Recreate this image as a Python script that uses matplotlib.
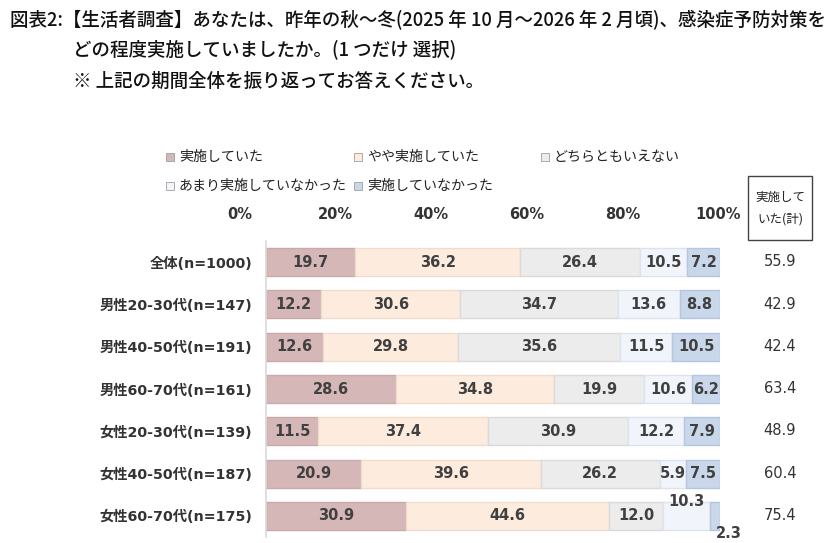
import matplotlib
matplotlib.use("Agg")
import matplotlib.pyplot as plt
from matplotlib.patches import Rectangle
import numpy as np

plt.rcParams['font.family'] = ['DejaVu Sans', 'Noto Sans CJK JP']

categories = ["全体(n=1000)", "男性20-30代(n=147)", "男性40-50代(n=191)", "男性60-70代(n=161)",
              "女性20-30代(n=139)", "女性40-50代(n=187)", "女性60-70代(n=175)"]
series_names = ["実施していた", "やや実施していた", "どちらともいえない", "あまり実施していなかった", "実施していなかった"]
v_jisshi = [19.7, 12.2, 12.6, 28.6, 11.5, 20.9, 30.9]
v_yaya = [36.2, 30.6, 29.8, 34.8, 37.4, 39.6, 44.6]
v_dochira = [26.4, 34.7, 35.6, 19.9, 30.9, 26.2, 12.0]
v_amari = [10.5, 13.6, 11.5, 10.6, 12.2, 5.9, 10.3]
v_nashi = [7.2, 8.8, 10.5, 6.2, 7.9, 7.5, 2.3]
totals = [55.9, 42.9, 42.4, 63.4, 48.9, 60.4, 75.4]
tick_vals = [0, 20, 40, 60, 80, 100]
tick_labels = ["0%", "20%", "40%", "60%", "80%", "100%"]

colors = ["#D6B7B7", "#FDEBDD", "#ECECEC", "#F1F5FB", "#C9D7EB"]
edges = ["#C9A9A9", "#F0DCCD", "#DADADA", "#DDE3EC", "#B5C6DE"]
series = [v_jisshi, v_yaya, v_dochira, v_amari, v_nashi]

W, H = 840, 543
fig = plt.figure(figsize=(W / 100, H / 100), dpi=100)
ax_bottom, ax_h = 1 - 537 / H, 296 / H
ax = fig.add_axes([266 / W, ax_bottom, 454 / W, ax_h])

n = len(categories)
y = np.arange(n)
left = np.zeros(n)
txtcol = "#404040"
for si, (vals, c, ec) in enumerate(zip(series, colors, edges)):
    vals = np.array(vals)
    ax.barh(y, vals, left=left, height=0.66, color=c, edgecolor=ec, linewidth=1.0)
    for i in range(n):
        cx = left[i] + vals[i] / 2
        dy = 0
        dx = 0
        if i == n - 1 and si == 3:
            dy = -0.33
        if i == n - 1 and si == 4:
            dy = 0.42
            dx = 3.0
        ax.text(cx + dx, y[i] + dy, f"{vals[i]:.1f}", ha="center", va="center",
                fontsize=10.5, fontweight="bold", color=txtcol, family="DejaVu Sans")
    left += vals

ax.set_xlim(0, 100)
ax.set_ylim(n - 0.5, -0.5)
ax.set_xticks([])
ax.set_yticks(y)
ax.set_yticklabels(categories, fontsize=10.3, fontweight="bold", color="#333333")
ax.tick_params(axis="y", length=0, pad=10)
for s in ["top", "right", "bottom"]:
    ax.spines[s].set_visible(False)
ax.spines["left"].set_color("#D9D9D9")
ax.spines["left"].set_linewidth(1.2)

# percentage scale labels (offset as in the reference)
ax_t = fig.add_axes([240 / W, ax_bottom, 478 / W, ax_h], facecolor="none")
ax_t.set_xlim(0, 100)
ax_t.set_yticks([])
ax_t.xaxis.tick_top()
ax_t.set_xticks(tick_vals)
ax_t.set_xticklabels(tick_labels, fontsize=10.5, fontweight="bold", color="#333333")
ax_t.tick_params(axis="x", length=0, pad=14)
for s in ax_t.spines.values():
    s.set_visible(False)

# totals column
for i in range(n):
    fig.text(780 / W, 1 - (262 + i * 42.2) / H, f"{totals[i]:.1f}", ha="center", va="center",
             fontsize=10.5, color="#333333", family="DejaVu Sans")
fig.patches.append(Rectangle((748 / W, 1 - 240 / H), 64 / W, 64 / H, transform=fig.transFigure,
                             facecolor="white", edgecolor="#444444", linewidth=1.0))
fig.text(780 / W, 1 - 208 / H, "実施して\nいた(計)", ha="center", va="center", fontsize=9,
         family=["Noto Sans CJK JP"], color="#222222", linespacing=1.9)

# legend
leg_pos = [(170, 157), (358, 157), (545, 157), (170, 186), (358, 186)]
for (lx, ly), name, c in zip(leg_pos, series_names, colors):
    fig.patches.append(Rectangle((lx / W - 4 / W, 1 - (ly + 4) / H), 8 / W, 8 / H,
                                 transform=fig.transFigure, facecolor=c, edgecolor="#A0A0A0", linewidth=0.6))
    fig.text((lx + 9) / W, 1 - ly / H, name, ha="left", va="center", fontsize=10.1,
             family=["Noto Sans CJK JP"], color="#222222")

# title
tkw = dict(ha="left", va="center", fontsize=13.3, family=["Noto Sans CJK JP"], fontweight="medium", color="#111111")
fig.text(10 / W, 1 - 20 / H, "図表2:【生活者調査】あなたは、昨年の秋～冬(2025 年 10 月～2026 年 2 月頃)、感染症予防対策を", **tkw)
fig.text(73 / W, 1 - 49 / H, "どの程度実施していましたか。(1 つだけ 選択)", **tkw)
fig.text(73 / W, 1 - 81 / H, "※ 上記の期間全体を振り返ってお答えください。", **tkw)

fig.savefig("out.png", dpi=100)
